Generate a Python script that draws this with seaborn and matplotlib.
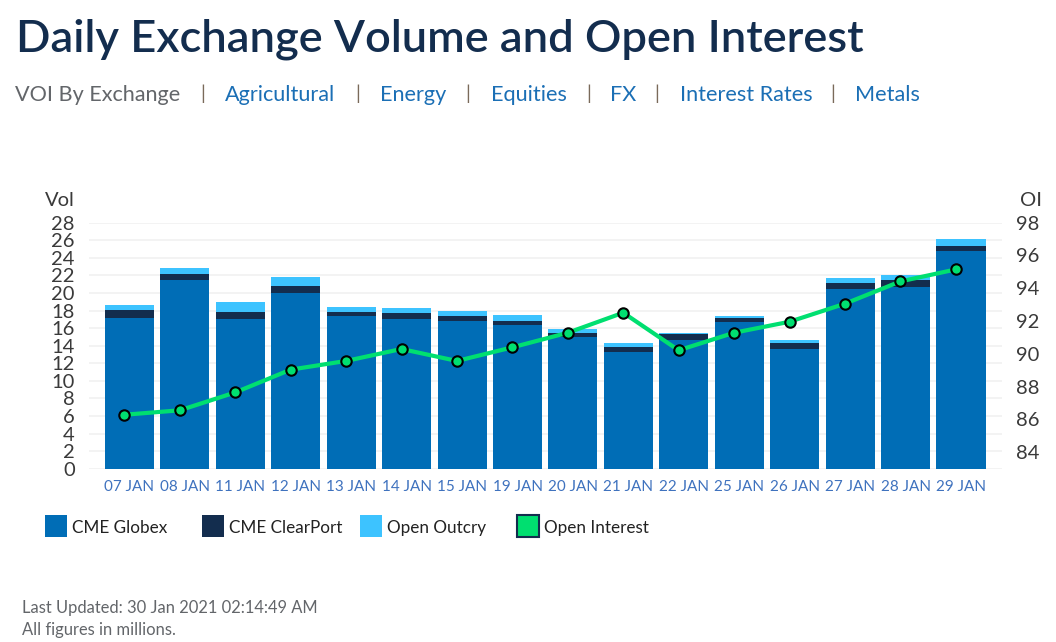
import matplotlib
matplotlib.use("Agg")
import matplotlib.pyplot as plt
from matplotlib.patches import Rectangle
import seaborn as sns

dates = ["07 JAN", "08 JAN", "11 JAN", "12 JAN", "13 JAN", "14 JAN", "15 JAN", "19 JAN",
         "20 JAN", "21 JAN", "22 JAN", "25 JAN", "26 JAN", "27 JAN", "28 JAN", "29 JAN"]
globex = [17.2, 21.5, 17.07, 19.95, 17.4, 17.07, 16.85, 16.35,
          15.0, 13.3, 14.65, 16.7, 13.6, 20.45, 20.65, 24.75]
clearport = [0.85, 0.65, 0.8, 0.85, 0.47, 0.63, 0.55, 0.5,
             0.5, 0.5, 0.65, 0.5, 0.7, 0.7, 0.85, 0.6]
outcry = [0.55, 0.7, 1.06, 1.0, 0.53, 0.55, 0.5, 0.7,
          0.35, 0.5, 0.2, 0.2, 0.35, 0.5, 0.5, 0.75]
open_interest = [86.29, 86.56, 87.65, 89.04, 89.57, 90.3, 89.57, 90.4,
                 91.29, 92.51, 90.22, 91.29, 91.96, 93.06, 94.42, 95.15]

vol_ticks = list(range(0, 29, 2))
oi_ticks = list(range(84, 99, 2))

W, H = 1056, 642
BLUE, NAVY, SKY, GREEN = "#006DB6", "#132D4E", "#3DC3FF", "#00DF70"
FONT = "Lato"

sns.set_theme(style="white")
plt.rcParams["font.family"] = [FONT, "DejaVu Sans"]

fig = plt.figure(figsize=(W / 100, H / 100), dpi=100)
ax = fig.add_axes([88.7 / W, 1 - 468.7 / H, (1002 - 88.7) / W, 246 / H])


def px_text(x, y, s, **kw):
    # place text by pixel position, y measured from the top
    fig.text(x / W, 1 - y / H, s, va="center", **kw)


# stacked bars, each layer sits on the ones before it
base2 = [a for a in globex]
base3 = [a + b for a, b in zip(globex, clearport)]
for vals, bottom, color in [(globex, None, BLUE), (clearport, base2, NAVY), (outcry, base3, SKY)]:
    sns.barplot(x=dates, y=vals, bottom=bottom, color=color, saturation=1, width=0.885,
                linewidth=0, ax=ax, zorder=2)

ax.set_xlim(-0.736, 15.74)
ax.set_ylim(0, 28)
ax.set_yticks(vol_ticks)
ax.grid(axis="y", color="#F2F2F2", linewidth=1.3, zorder=0)
ax.set_axisbelow(True)
ax.tick_params(axis="y", length=0, pad=10, labelsize=14.5, labelcolor="#3A3A3A")
ax.tick_params(axis="x", length=0, pad=8, labelsize=11, labelcolor="#3F72BE")
sns.despine(ax=ax, left=True, right=True, top=True, bottom=True)

# open interest on its own axis, drawn slightly left of the bar centres
ax2 = ax.twinx()
line_x = [i - 0.093 for i in range(len(open_interest))]
sns.lineplot(x=line_x, y=open_interest, color=GREEN, linewidth=3, marker="o", markersize=7.5,
             markeredgecolor="black", markeredgewidth=1.5, markerfacecolor=GREEN, ax=ax2,
             zorder=5, legend=False)
ax2.set_ylim(83, 98)
ax2.set_yticks(oi_ticks)
ax2.grid(False)
ax2.tick_params(axis="y", length=0, pad=10, labelsize=14.5, labelcolor="#3A3A3A")
sns.despine(ax=ax2, left=True, right=True, top=True, bottom=True)

px_text(45, 200, "Vol", fontsize=14.5, color="#3A3A3A")
px_text(1020, 200, "OI", fontsize=14.5, color="#3A3A3A")

# header
px_text(16, 39, "Daily Exchange Volume and Open Interest", fontsize=32.6, fontweight="semibold",
        color="#132D4E")
px_text(15, 95, "VOI By Exchange", fontsize=15.6, color="#63666A")
links = [("Agricultural", 225), ("Energy", 380), ("Equities", 491), ("FX", 610),
         ("Interest Rates", 680), ("Metals", 855)]
for name, x in links:
    px_text(x, 95, name, fontsize=15.6, color="#1B6FB5")
for x in [203, 358, 468, 589, 657, 833]:
    px_text(x, 94, "|", fontsize=14, color="#7A6A5A", ha="center")

# legend entries are spaced unevenly in the original
legend_items = [("CME Globex", 45, BLUE), ("CME ClearPort", 202, NAVY),
                ("Open Outcry", 360, SKY), ("Open Interest", 517, GREEN)]
for name, x, color in legend_items:
    fig.add_artist(Rectangle((x / W, 1 - 537 / H), 22 / W, 22 / H, transform=fig.transFigure,
                             facecolor=color, edgecolor="#132D4E" if color == GREEN else "none",
                             linewidth=1.5))
    px_text(x + 27, 528, name, fontsize=12.3, color="#222222")

px_text(22, 608, "Last Updated: 30 Jan 2021 02:14:49 AM", fontsize=11.9, color="#63666A")
px_text(22, 630, "All figures in millions.", fontsize=11.9, color="#63666A")

fig.savefig("out.png", dpi=100, facecolor="white")
